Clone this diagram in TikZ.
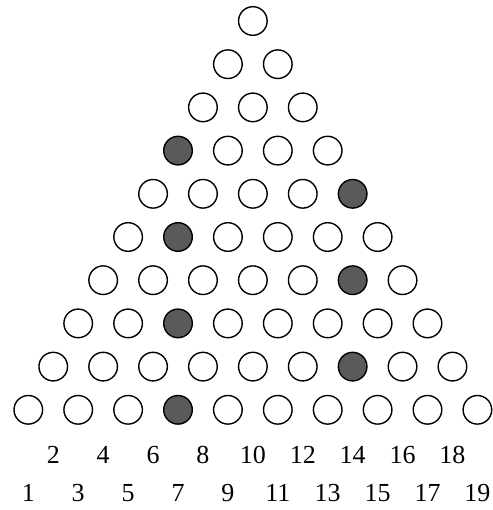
\documentclass[tikz,border=0pt]{standalone}
\usepackage{fontspec}
\setmainfont{Liberation Serif}
\definecolor{pegfill}{RGB}{90,90,90}
\tikzset{
  peg/.style={circle,draw=black,line width=1.4pt,minimum size=28.6pt,inner sep=0pt,fill=white},
  pegon/.style={peg,fill=pegfill},
  numlab/.style={inner sep=0pt,font=\fontsize{26}{30}\selectfont}
}
\begin{document}
\begin{tikzpicture}[x=1pt,y=-1pt]
\useasboundingbox (0,0) rectangle (492,510);
\foreach \r in {1,...,10}{
  \foreach \i in {1,...,\r}{
    \pgfmathtruncatemacro{\k}{11-\r+2*(\i-1)}
    \pgfmathsetmacro{\xx}{28.3+24.95*(\k-1)}
    \pgfmathsetmacro{\yy}{21+43.2*(\r-1)}
    \pgfmathtruncatemacro{\on}{(\r>=4)*((mod(\r,2)==0)*(\k==7)+(mod(\r,2)==1)*(\k==14))}
    \ifnum\on=1
      \node[pegon] (c-\r-\k) at (\xx,\yy) {};
    \else
      \node[peg] (c-\r-\k) at (\xx,\yy) {};
    \fi
  }
}
\foreach \k in {1,...,19}{
  \pgfmathsetmacro{\xx}{28.3+24.95*(\k-1)}
  \pgfmathtruncatemacro{\odd}{mod(\k,2)}
  \ifnum\odd=1
    \node[numlab] (l\k) at (\xx,493) {\k};
  \else
    \node[numlab] (l\k) at (\xx,455) {\k};
  \fi
}
\end{tikzpicture}
\end{document}
